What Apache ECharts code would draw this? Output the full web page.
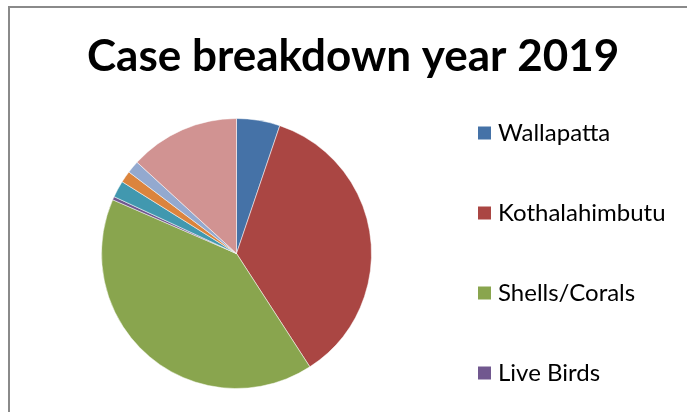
<!DOCTYPE html>
<html>
<head>
<meta charset="utf-8">
<script src="https://cdn.jsdelivr.net/npm/echarts@6/dist/echarts.min.js"></script>
<style>
  html, body { margin: 0; padding: 0; background: #fff; }
  #main { width: 687px; height: 412px; }
</style>
</head>
<body>
<div id="main"></div>
<script>
// доли по категориям (в %)
let categories = ['Wallapatta', 'Kothalahimbutu', 'Shells/Corals', 'Live Birds',
                  'Category 5', 'Category 6', 'Category 7', 'Category 8'];
let values = [5.2, 35.7, 40.7, 0.4, 2.0, 1.4, 1.5, 13.2];
let colors = ['#4572A7', '#AA4643', '#89A54E', '#71588F',
              '#4198AF', '#DB843D', '#93A9CF', '#D19392'];
// в легенде видны только первые четыре
let legendNames = categories.slice(0, 4);

let chart = echarts.init(document.getElementById('main'));
chart.setOption({
    animation: false,
    color: colors,
    title: {
        text: 'Case breakdown year 2019',
        left: 87,
        top: 35,
        padding: 0,
        textStyle: {
            fontFamily: 'Lato',
            fontWeight: 'bold',
            fontSize: 44,
            color: '#000'
        }
    },
    legend: {
        data: legendNames,
        orient: 'vertical',
        left: 476,
        top: 121,
        padding: 0,
        icon: 'rect',
        itemWidth: 15,
        itemHeight: 15,
        itemGap: 56,
        textStyle: {
            fontFamily: 'Lato',
            fontSize: 24,
            lineHeight: 24,
            color: '#000',
            padding: [0, 0, 0, 1]
        }
    },
    graphic: [{
        type: 'polyline',
        shape: { points: [[9, 412], [9, 7], [687, 7]] },
        style: { stroke: '#8a8a8a', lineWidth: 2, fill: null },
        silent: true
    }],
    series: [{
        type: 'pie',
        center: [236.5, 253.5],
        radius: 135,
        startAngle: 90,
        clockwise: true,
        label: { show: false },
        labelLine: { show: false },
        itemStyle: { borderColor: '#fff', borderWidth: 0.5 },
        data: categories.map((n, i) => ({ name: n, value: values[i] }))
    }]
});
</script>
</body>
</html>
